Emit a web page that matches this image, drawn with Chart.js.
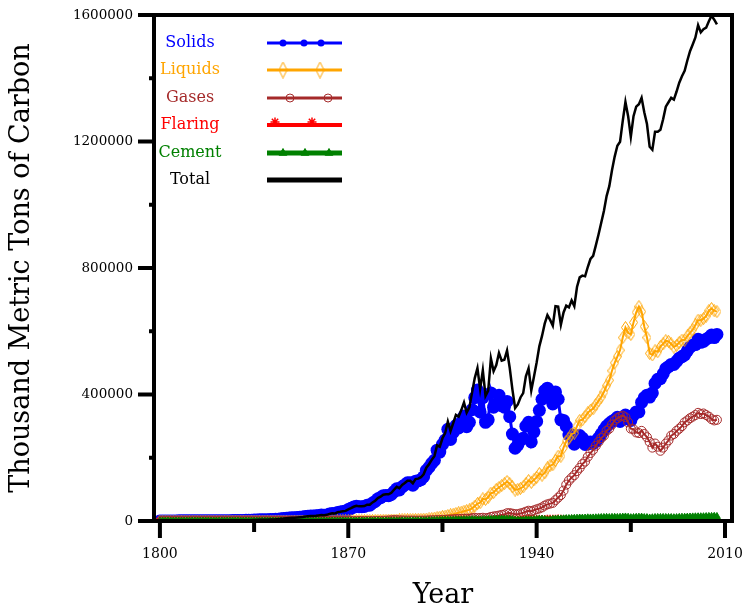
<!DOCTYPE html>
<html>
<head>
<meta charset="utf-8">
<title>Carbon emissions by fuel</title>
<script src="https://cdn.jsdelivr.net/npm/chart.js@4.4.1/dist/chart.umd.min.js"></script>
<style>
    html, body { margin: 0; padding: 0; background: #fff; }
    #wrap { position: relative; width: 743px; height: 612px; }
</style>
</head>
<body>
<div id="wrap"><canvas id="chart" width="743" height="612"></canvas></div>
<script>
'use strict';

// ---- data (thousand metric tons of carbon), one value per year 1800-2007 ----
const years = [
    1800, 1801, 1802, 1803, 1804, 1805, 1806, 1807, 1808, 1809,
    1810, 1811, 1812, 1813, 1814, 1815, 1816, 1817, 1818, 1819,
    1820, 1821, 1822, 1823, 1824, 1825, 1826, 1827, 1828, 1829,
    1830, 1831, 1832, 1833, 1834, 1835, 1836, 1837, 1838, 1839,
    1840, 1841, 1842, 1843, 1844, 1845, 1846, 1847, 1848, 1849,
    1850, 1851, 1852, 1853, 1854, 1855, 1856, 1857, 1858, 1859,
    1860, 1861, 1862, 1863, 1864, 1865, 1866, 1867, 1868, 1869,
    1870, 1871, 1872, 1873, 1874, 1875, 1876, 1877, 1878, 1879,
    1880, 1881, 1882, 1883, 1884, 1885, 1886, 1887, 1888, 1889,
    1890, 1891, 1892, 1893, 1894, 1895, 1896, 1897, 1898, 1899,
    1900, 1901, 1902, 1903, 1904, 1905, 1906, 1907, 1908, 1909,
    1910, 1911, 1912, 1913, 1914, 1915, 1916, 1917, 1918, 1919,
    1920, 1921, 1922, 1923, 1924, 1925, 1926, 1927, 1928, 1929,
    1930, 1931, 1932, 1933, 1934, 1935, 1936, 1937, 1938, 1939,
    1940, 1941, 1942, 1943, 1944, 1945, 1946, 1947, 1948, 1949,
    1950, 1951, 1952, 1953, 1954, 1955, 1956, 1957, 1958, 1959,
    1960, 1961, 1962, 1963, 1964, 1965, 1966, 1967, 1968, 1969,
    1970, 1971, 1972, 1973, 1974, 1975, 1976, 1977, 1978, 1979,
    1980, 1981, 1982, 1983, 1984, 1985, 1986, 1987, 1988, 1989,
    1990, 1991, 1992, 1993, 1994, 1995, 1996, 1997, 1998, 1999,
    2000, 2001, 2002, 2003, 2004, 2005, 2006, 2007
];

const solids = [
    250, 270, 290, 300, 330, 340, 390, 400, 430, 440,
    480, 500, 500, 520, 540, 570, 610, 630, 680, 710,
    710, 740, 790, 830, 890, 1020, 1100, 1220, 1360, 1420,
    1650, 1840, 2110, 2420, 2540, 2980, 3430, 3670, 3730, 4030,
    4000, 4400, 4900, 5300, 5900, 6900, 7600, 8800, 9700, 9900,
    10000, 11000, 12000, 12800, 14000, 14800, 15700, 16000, 16500, 17600,
    18700, 18200, 19200, 21900, 24000, 23100, 27100, 28500, 30100, 31400,
    36000, 40000, 44000, 47000, 45000, 45000, 46000, 50000, 50000, 57000,
    62000, 70000, 74000, 80000, 81000, 80000, 84000, 93000, 102000, 98000,
    108000, 114000, 121000, 121000, 113000, 126000, 127000, 131000, 140000, 160000,
    170000, 182000, 192000, 224000, 218000, 242000, 256000, 290000, 258000, 280000,
    302000, 294000, 312000, 332000, 298000, 312000, 352000, 390000, 414000, 345000,
    390000, 312000, 320000, 405000, 360000, 368000, 398000, 365000, 360000, 378000,
    330000, 275000, 230000, 240000, 256000, 262000, 300000, 312000, 250000, 282000,
    315000, 350000, 385000, 412000, 420000, 395000, 370000, 408000, 385000, 320000,
    318000, 300000, 272000, 272000, 243000, 268000, 270000, 262000, 242000, 244000,
    250000, 245000, 252000, 262000, 275000, 288000, 300000, 308000, 315000, 320000,
    328000, 315000, 322000, 335000, 325000, 318000, 335000, 345000, 345000, 375000,
    390000, 398000, 392000, 405000, 435000, 448000, 450000, 465000, 482000, 488000,
    495000, 495000, 505000, 515000, 520000, 525000, 538000, 550000, 556000, 558000,
    575000, 565000, 568000, 575000, 580000, 588000, 580000, 590000
];

const liquids = [
    0, 0, 0, 0, 0, 0, 0, 0, 0, 0,
    0, 0, 0, 0, 0, 0, 0, 0, 0, 0,
    0, 0, 0, 0, 0, 0, 0, 0, 0, 0,
    0, 0, 0, 0, 0, 0, 0, 0, 0, 0,
    0, 0, 0, 0, 0, 0, 0, 0, 0, 0,
    0, 0, 0, 0, 0, 0, 0, 0, 0, 0,
    100, 200, 300, 300, 300, 400, 500, 500, 500, 600,
    700, 700, 900, 1100, 1200, 1300, 1300, 1400, 1500, 1700,
    1900, 2000, 2100, 2200, 2300, 2400, 2600, 2800, 3000, 3200,
    3600, 3900, 4200, 4300, 4500, 4700, 5000, 5300, 5600, 6000,
    6500, 7500, 9000, 10500, 12000, 14000, 15500, 17500, 19500, 21500,
    24000, 26000, 28000, 31000, 33000, 35000, 40000, 47000, 55000, 58000,
    70000, 68000, 75000, 88000, 90000, 100000, 106000, 112000, 118000, 125000,
    118000, 108000, 98000, 100000, 103000, 108000, 118000, 128000, 122000, 130000,
    138000, 150000, 145000, 152000, 168000, 175000, 178000, 192000, 205000, 205000,
    232000, 252000, 262000, 275000, 278000, 300000, 318000, 320000, 330000, 342000,
    350000, 355000, 368000, 380000, 392000, 408000, 428000, 445000, 475000, 500000,
    520000, 540000, 580000, 612000, 595000, 590000, 628000, 660000, 678000, 662000,
    615000, 580000, 530000, 525000, 538000, 535000, 552000, 560000, 570000, 568000,
    560000, 550000, 555000, 565000, 572000, 572000, 585000, 595000, 605000, 620000,
    635000, 635000, 640000, 648000, 665000, 672000, 665000, 662000
];

const gases = [
    0, 0, 0, 0, 0, 0, 0, 0, 0, 0,
    0, 0, 0, 0, 0, 0, 0, 0, 0, 0,
    0, 0, 0, 0, 0, 0, 0, 0, 0, 0,
    0, 0, 0, 0, 0, 0, 0, 0, 0, 0,
    0, 0, 0, 0, 0, 0, 0, 0, 0, 0,
    0, 0, 0, 0, 0, 0, 0, 0, 0, 0,
    0, 0, 0, 0, 0, 0, 0, 0, 0, 0,
    0, 0, 0, 0, 0, 0, 0, 0, 0, 0,
    200, 300, 500, 700, 1100, 1700, 2400, 2800, 2800, 2100,
    1900, 1600, 1500, 1400, 1400, 1300, 1300, 1300, 1400, 1600,
    2100, 2400, 2700, 3000, 3200, 3500, 3900, 4600, 4700, 5400,
    6100, 6500, 7000, 7300, 7400, 7600, 9000, 9600, 9200, 9400,
    10300, 8900, 9900, 13000, 14600, 15500, 17200, 19300, 20700, 24600,
    25000, 23300, 21700, 21400, 24000, 26200, 29500, 32500, 31000, 33800,
    37000, 39600, 43000, 48800, 52700, 55000, 57300, 66000, 74000, 82000,
    96000, 115000, 128000, 137000, 145000, 158000, 168000, 180000, 188000, 203000,
    215000, 225000, 238000, 250000, 262000, 270000, 285000, 292000, 305000, 318000,
    325000, 330000, 333000, 328000, 312000, 292000, 290000, 280000, 278000, 285000,
    275000, 265000, 250000, 232000, 245000, 235000, 222000, 232000, 245000, 255000,
    270000, 275000, 285000, 292000, 300000, 312000, 318000, 325000, 330000, 335000,
    342000, 338000, 340000, 335000, 330000, 322000, 318000, 320000
];

const flaring = [
    0, 0, 0, 0, 0, 0, 0, 0, 0, 0,
    0, 0, 0, 0, 0, 0, 0, 0, 0, 0,
    0, 0, 0, 0, 0, 0, 0, 0, 0, 0,
    0, 0, 0, 0, 0, 0, 0, 0, 0, 0,
    0, 0, 0, 0, 0, 0, 0, 0, 0, 0,
    0, 0, 0, 0, 0, 0, 0, 0, 0, 0,
    0, 0, 0, 0, 0, 0, 0, 0, 0, 0,
    0, 0, 0, 0, 0, 0, 0, 0, 0, 0,
    0, 0, 0, 0, 0, 0, 0, 0, 0, 0,
    0, 0, 0, 0, 0, 0, 0, 0, 0, 0,
    0, 0, 0, 0, 0, 0, 0, 0, 0, 0,
    300, 400, 500, 600, 700, 900, 1100, 1400, 1600, 1900,
    2300, 2500, 2800, 3200, 3600, 4000, 4300, 4800, 5200, 5600,
    5300, 4800, 4400, 4500, 4800, 5200, 5600, 6000, 5800, 6200,
    6500, 6800, 6200, 6500, 7000, 7200, 7000, 7400, 7600, 6800,
    6500, 6200, 5800, 5600, 5200, 5000, 4800, 4600, 4200, 4000,
    3800, 3600, 3400, 3200, 3000, 2900, 2800, 2700, 2600, 2500,
    2500, 2400, 2300, 2200, 2100, 2000, 1900, 1800, 1700, 1600,
    1500, 1500, 1600, 1600, 1700, 1700, 1800, 1800, 1900, 2000,
    2100, 2200, 2300, 2400, 2500, 2600, 2700, 2800, 2700, 2600,
    2500, 2400, 2300, 2200, 2100, 2000, 1900, 1900
];

const cement = [
    0, 0, 0, 0, 0, 0, 0, 0, 0, 0,
    0, 0, 0, 0, 0, 0, 0, 0, 0, 0,
    0, 0, 0, 0, 0, 0, 0, 0, 0, 0,
    0, 0, 0, 0, 0, 0, 0, 0, 0, 0,
    0, 0, 0, 0, 0, 0, 0, 0, 0, 0,
    0, 0, 0, 0, 0, 0, 0, 0, 0, 0,
    0, 0, 0, 0, 0, 0, 0, 0, 0, 0,
    30, 40, 50, 60, 70, 80, 90, 100, 110, 120,
    140, 160, 180, 200, 220, 250, 280, 310, 340, 380,
    420, 460, 500, 550, 600, 650, 700, 800, 900, 1000,
    1100, 1300, 1500, 1700, 1900, 2100, 2300, 2500, 2400, 2700,
    3000, 3100, 3300, 3600, 3500, 3600, 3900, 3800, 3300, 3500,
    4000, 4000, 4400, 5000, 5300, 5600, 5800, 6000, 6000, 5900,
    5500, 4500, 3000, 2600, 2900, 2800, 4200, 4000, 3900, 4400,
    4700, 5800, 6000, 4800, 3500, 3700, 5500, 6000, 6500, 6600,
    7000, 7600, 7800, 8100, 8400, 9000, 9500, 9200, 9400, 10100,
    9700, 9800, 10200, 10600, 11000, 11200, 11500, 11000, 11500, 11700,
    11300, 11800, 12300, 12800, 12000, 10600, 11000, 11700, 12200, 12300,
    11000, 10800, 9600, 10300, 11100, 11300, 11400, 11400, 11200, 11100,
    11000, 10500, 10800, 11500, 12000, 12000, 12400, 12700, 13000, 13300,
    13400, 13500, 13600, 14000, 14500, 14600, 14800, 14400
];

const total = [
    250, 270, 290, 300, 330, 340, 390, 400, 430, 440,
    480, 500, 500, 520, 540, 570, 610, 630, 680, 710,
    710, 740, 790, 830, 890, 1020, 1100, 1220, 1360, 1420,
    1650, 1840, 2110, 2420, 2540, 2980, 3430, 3670, 3730, 4030,
    4000, 4400, 4900, 5300, 5900, 6900, 7600, 8800, 9700, 9900,
    10000, 11000, 12000, 12800, 14000, 14800, 15700, 16000, 16500, 17600,
    18800, 18400, 19500, 22200, 24300, 23500, 27600, 29000, 30600, 32000,
    36700, 40700, 45000, 48200, 46300, 46400, 47400, 51500, 51600, 58800,
    64200, 72500, 76800, 83100, 84600, 84400, 89300, 98900, 108100, 103700,
    113900, 120000, 127200, 127300, 119500, 132700, 134000, 138400, 147900, 168600,
    179700, 193200, 205200, 239200, 235100, 261600, 277700, 314600, 284600, 309600,
    335400, 330000, 350800, 374500, 342600, 359100, 406000, 451800, 483100, 417800,
    476600, 395400, 412100, 514200, 473500, 493100, 531300, 507100, 509900, 539100,
    483800, 415600, 357100, 368500, 390700, 404200, 457300, 482500, 412700, 456400,
    501200, 552200, 585200, 624100, 651200, 635900, 617800, 679400, 678100, 620400,
    659500, 680800, 675600, 697700, 679600, 740000, 770300, 775800, 773600, 803100,
    828500, 838400, 871600, 905800, 943000, 980100, 1027300, 1058700, 1109100, 1152200,
    1186800, 1199200, 1265000, 1325000, 1280000, 1215000, 1280000, 1310000, 1318000, 1338000,
    1292500, 1255300, 1183200, 1173900, 1230800, 1231000, 1237200, 1270200, 1310100, 1324100,
    1338100, 1332700, 1358100, 1385900, 1406500, 1423600, 1456100, 1485500, 1506700, 1528900,
    1567900, 1545000, 1555000, 1560000, 1580000, 1598000, 1585000, 1570000
];

const seriesNames = ['Solids', 'Liquids', 'Gases', 'Flaring', 'Cement', 'Total'];
const yTickValues = [0, 400000, 800000, 1200000, 1600000];
const yMinorValues = [200000, 600000, 1000000, 1400000];
const xTickValues = [1800, 1870, 1940, 2010];
const xMinorValues = [1835, 1905, 1975];

// ---- styling ----
const SERIF = '"DejaVu Serif", "Liberation Serif", serif';

function diamondImage(w, h, color) {
    const c = document.createElement('canvas');
    c.width = w; c.height = h;
    const g = c.getContext('2d');
    g.strokeStyle = color;
    g.lineWidth = 1;
    g.beginPath();
    g.moveTo(w / 2, 0.5);
    g.lineTo(w - 0.5, h / 2);
    g.lineTo(w / 2, h - 0.5);
    g.lineTo(0.5, h / 2);
    g.closePath();
    g.stroke();
    return c;
}

function pointsOf(values) {
    return years.map((yr, i) => ({ x: yr, y: values[i] }));
}

// scales: drop the label overflow padding so the plot frame keeps its place
function noOverflow(scale) {
    scale.paddingLeft = 0;
    scale.paddingRight = 0;
    scale.paddingTop = 0;
    scale.paddingBottom = 0;
}

const diamondPlot = diamondImage(9, 13, '#ffa500');
const diamondLegend = diamondImage(9, 17, '#ffa500');

const styles = [
    { color: '#0000ff', width: 3, style: 'circle', radius: 6.5, fill: '#0000ff', bw: 0,
      legend: { width: 3, radius: 3.5, at: [283, 304, 321] } },
    { color: '#ffa500', width: 2, style: diamondPlot, radius: 5, fill: 'rgba(0,0,0,0)', bw: 1,
      legend: { width: 3, radius: 5, at: [283, 320], image: diamondLegend } },
    { color: '#a52a2a', width: 2, style: 'circle', radius: 4.5, fill: 'rgba(0,0,0,0)', bw: 1,
      legend: { width: 3, radius: 4, at: [290, 328] } },
    { color: '#ff0000', width: 2, style: 'star', radius: 4, fill: '#ff0000', bw: 1.5,
      legend: { width: 4, radius: 4.5, at: [275, 312], dy: -3 } },
    { color: '#008000', width: 3, style: 'triangle', radius: 4, fill: '#008000', bw: 1,
      legend: { width: 5, radius: 4.5, at: [283, 305, 329] } },
    { color: '#000000', width: 2.5, style: false, radius: 0, fill: '#000000', bw: 0,
      legend: { width: 5, radius: 0, at: [] } }
];

const seriesValues = [solids, liquids, gases, flaring, cement, total];

const datasets = seriesNames.map((name, i) => {
    const s = styles[i];
    return {
        label: name,
        data: pointsOf(seriesValues[i]),
        borderColor: s.color,
        backgroundColor: s.fill,
        borderWidth: s.width,
        pointStyle: s.style,
        pointRadius: s.radius,
        pointBorderColor: s.color,
        pointBackgroundColor: s.fill,
        pointBorderWidth: s.bw,
        pointHoverRadius: s.radius,
        tension: 0,
        fill: false,
        order: seriesNames.length - i   // solids underneath, total on top
    };
});

// frame, tick marks and the legend block, drawn after the data
const framePlugin = {
    id: 'frameAndLegend',
    afterDraw(chart) {
        const { ctx, chartArea: a, scales } = chart;
        const xs = scales.x, ys = scales.y;
        ctx.save();
        ctx.strokeStyle = '#000';
        ctx.lineWidth = 4;
        ctx.strokeRect(a.left, a.top, a.right - a.left, a.bottom - a.top);

        ctx.lineCap = 'butt';
        yTickValues.forEach(v => {
            const py = ys.getPixelForValue(v);
            ctx.beginPath(); ctx.moveTo(a.left - 16, py); ctx.lineTo(a.left, py); ctx.stroke();
        });
        yMinorValues.forEach(v => {
            const py = ys.getPixelForValue(v);
            ctx.beginPath(); ctx.moveTo(a.left - 5, py); ctx.lineTo(a.left, py); ctx.stroke();
        });
        xTickValues.forEach(v => {
            const px = xs.getPixelForValue(v);
            ctx.beginPath(); ctx.moveTo(px, a.bottom); ctx.lineTo(px, a.bottom + 17); ctx.stroke();
        });
        xMinorValues.forEach(v => {
            const px = xs.getPixelForValue(v);
            ctx.beginPath(); ctx.moveTo(px, a.bottom); ctx.lineTo(px, a.bottom + 11); ctx.stroke();
        });

        // legend: name on the left, line sample with markers on the right
        const textX = 190, lineX0 = 267, lineX1 = 342;
        const rowY = [43, 70, 98, 125, 153, 180];
        ctx.font = '16px ' + SERIF;
        ctx.textAlign = 'center';
        ctx.textBaseline = 'middle';
        chart.data.datasets.forEach((ds, i) => {
            const s = styles[i], lg = s.legend, y = rowY[i];
            ctx.fillStyle = s.color;
            ctx.fillText(ds.label, textX, y);
            ctx.strokeStyle = s.color;
            ctx.lineWidth = lg.width;
            ctx.beginPath(); ctx.moveTo(lineX0, y); ctx.lineTo(lineX1, y); ctx.stroke();
            ctx.lineWidth = s.bw || 1;
            ctx.fillStyle = s.fill;
            lg.at.forEach(px => {
                Chart.helpers.drawPoint(ctx, {
                    pointStyle: lg.image || s.style,
                    radius: lg.radius,
                    borderWidth: s.bw,
                    rotation: 0
                }, px, y + (lg.dy || 0));
            });
        });
        ctx.restore();
    }
};

new Chart(document.getElementById('chart').getContext('2d'), {
    type: 'line',
    data: { datasets },
    options: {
        responsive: false,
        animation: false,
        events: [],
        layout: { padding: { left: 0, top: 15, right: 11, bottom: 0 } },
        plugins: { legend: { display: false }, tooltip: { enabled: false } },
        scales: {
            x: {
                type: 'linear',
                min: 1797.8,
                max: 2012.6,
                grid: { display: false, drawTicks: false },
                border: { display: false },
                afterBuildTicks(scale) { scale.ticks = xTickValues.map(v => ({ value: v })); },
                afterFit(scale) { scale.height = 91; noOverflow(scale); },
                ticks: {
                    padding: 25,
                    color: '#000',
                    maxRotation: 0,
                    font: { family: SERIF, size: 14 },
                    callback: v => String(v)
                },
                title: {
                    display: true,
                    text: 'Year',
                    color: '#000',
                    font: { family: SERIF, size: 27 },
                    padding: { top: 0, bottom: 0 }
                }
            },
            y: {
                min: 0,
                max: 1600000,
                grid: { display: false, drawTicks: false },
                border: { display: false },
                afterBuildTicks(scale) { scale.ticks = yTickValues.map(v => ({ value: v })); },
                afterFit(scale) { scale.width = 154; noOverflow(scale); },
                ticks: {
                    padding: 21,
                    color: '#000',
                    font: { family: SERIF, size: 13.5 },
                    callback: v => String(v)
                },
                title: {
                    display: true,
                    text: 'Thousand Metric Tons of Carbon',
                    color: '#000',
                    font: { family: SERIF, size: 27 },
                    padding: { top: 6, bottom: 0 }
                }
            }
        }
    },
    plugins: [framePlugin]
});
</script>
</body>
</html>
